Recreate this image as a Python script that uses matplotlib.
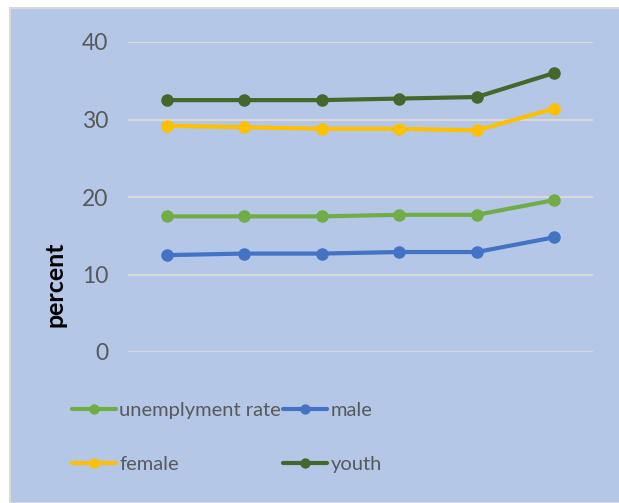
import matplotlib
matplotlib.use("Agg")
import matplotlib.pyplot as plt
from matplotlib.patches import Rectangle

plt.rcParams['font.family'] = ['Lato', 'DejaVu Sans']

periods = ['p1', 'p2', 'p3', 'p4', 'p5', 'p6']
unemployment_rate = [17.5, 17.5, 17.5, 17.7, 17.7, 19.6]
male = [12.5, 12.7, 12.7, 12.9, 12.9, 14.8]
female = [29.2, 29.0, 28.8, 28.8, 28.6, 31.4]
youth = [32.5, 32.5, 32.5, 32.7, 32.9, 36.0]

series = [
    ('unemplyment rate', unemployment_rate, '#70AD47'),
    ('male', male, '#4472C4'),
    ('female', female, '#FFC000'),
    ('youth', youth, '#43682B'),
]

W, H = 619, 503
fig = plt.figure(figsize=(W / 100, H / 100), dpi=100)
fig.patch.set_facecolor('white')

# chart area panel with thin grey frame
fig.patches.append(Rectangle((10 / W, 0), 1, 1 - 8 / H, transform=fig.transFigure,
                             facecolor='#B4C7E7', edgecolor='#D9D9D9', linewidth=1.5,
                             zorder=-5))

ax = fig.add_axes([128 / W, (H - 352) / H, 465 / W, 310 / H])
ax.set_facecolor('none')
x = list(range(len(periods)))
for name, vals, col in series:
    ax.plot(x, vals, color=col, linewidth=3, marker='o', markersize=8,
            label=name, solid_capstyle='round')

ax.set_xlim(-0.5, len(periods) - 0.5)
ax.set_ylim(0, 40)
ax.set_yticks([0, 10, 20, 30, 40])
ax.set_xticks([])
ax.grid(axis='y', color='#D9D9D9', linewidth=1.5)
ax.set_axisbelow(True)
for s in ax.spines.values():
    s.set_visible(False)
ax.tick_params(axis='y', length=0, pad=14, labelsize=16.5, labelcolor='#595959')

fig.text(55 / W, (H - 284) / H, 'percent', rotation=90, fontsize=18,
         fontweight='bold', ha='center', va='center', color='black')

handles, labels = ax.get_legend_handles_labels()
order = [0, 2, 1, 3]
leg = fig.legend([handles[i] for i in order], [labels[i] for i in order],
                 ncol=2, frameon=False, loc='upper left',
                 bbox_to_anchor=(72 / W, (H - 402) / H),
                 borderpad=0, borderaxespad=0,
                 fontsize=14.5, handlelength=2.2, handletextpad=0.15,
                 columnspacing=0.1, labelspacing=1.85, markerscale=0.8)
for t in leg.get_texts():
    t.set_color('#595959')

fig.savefig('out.png', dpi=100)
